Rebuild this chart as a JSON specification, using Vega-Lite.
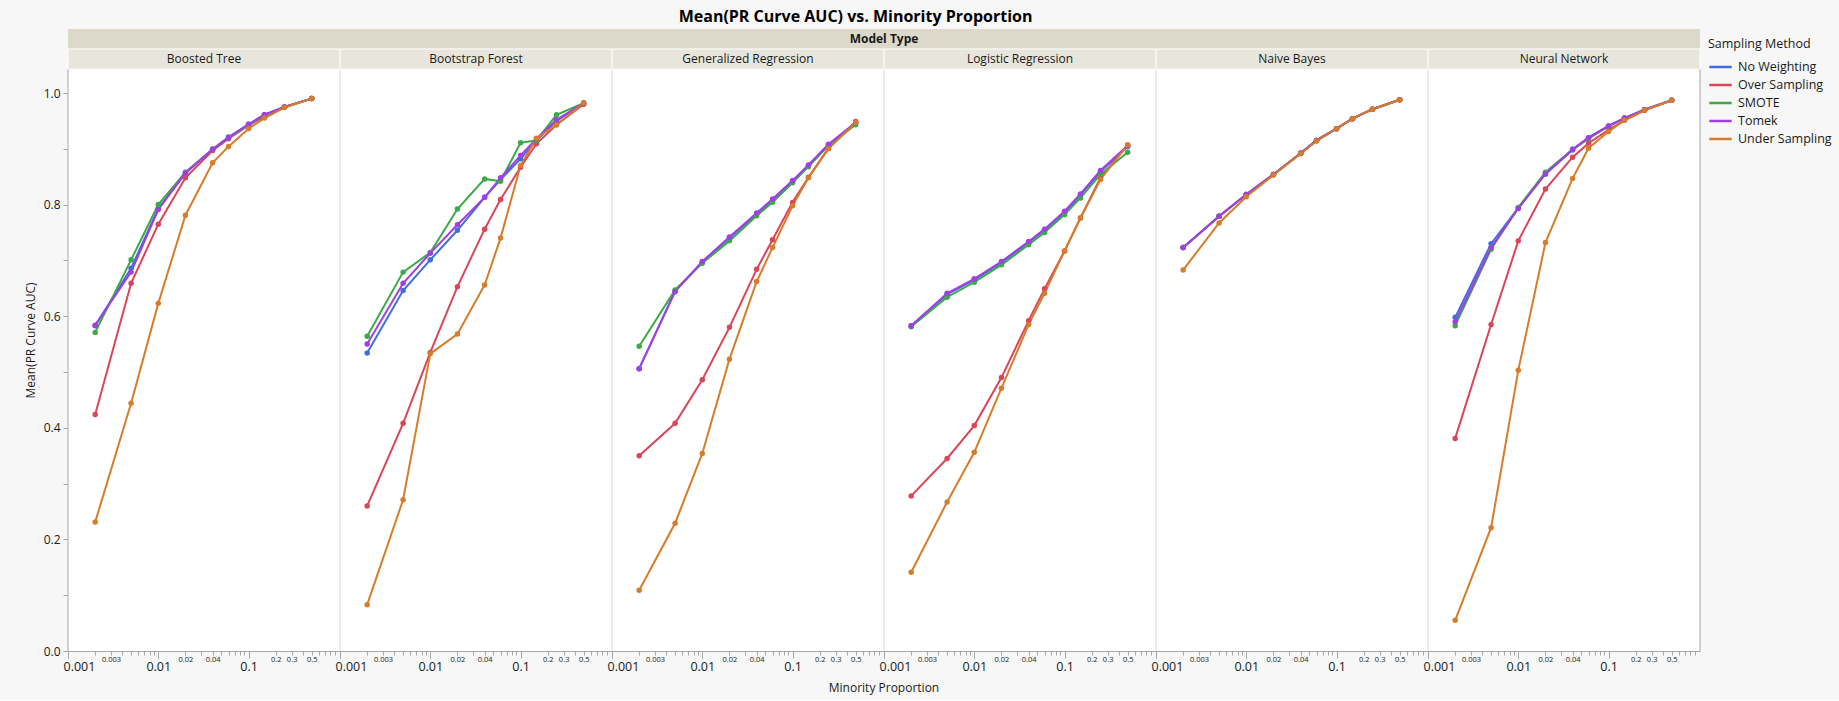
{
 "$schema": "https://vega.github.io/schema/vega-lite/v6.json",
 "background": "#f7f7f7",
 "padding": {"left": 24, "top": 9, "right": 12, "bottom": 6},
 "config": {"font": "Open Sans", "view": {"stroke": null, "fill": "white"}, "axis": {"grid": false, "domainColor": "#a6a6a6", "tickColor": "#a6a6a6", "labelColor": "#1a1a1a", "titleColor": "#1a1a1a"}},
 "title": {"text": "Mean(PR Curve AUC) vs. Minority Proportion", "fontSize": 16, "fontWeight": "bold", "color": "#000000", "offset": 4, "anchor": "middle", "dx": -77},
 "data": {"values": [
  {"m":"Boosted Tree","s":"No Weighting","x":0.002,"y":0.583},{"m":"Boosted Tree","s":"No Weighting","x":0.005,"y":0.686},{"m":"Boosted Tree","s":"No Weighting","x":0.01,"y":0.793},{"m":"Boosted Tree","s":"No Weighting","x":0.02,"y":0.856},{"m":"Boosted Tree","s":"No Weighting","x":0.04,"y":0.899},{"m":"Boosted Tree","s":"No Weighting","x":0.06,"y":0.921},{"m":"Boosted Tree","s":"No Weighting","x":0.1,"y":0.944},{"m":"Boosted Tree","s":"No Weighting","x":0.15,"y":0.961},{"m":"Boosted Tree","s":"No Weighting","x":0.25,"y":0.975},{"m":"Boosted Tree","s":"No Weighting","x":0.5,"y":0.990},
  {"m":"Boosted Tree","s":"Over Sampling","x":0.002,"y":0.424},{"m":"Boosted Tree","s":"Over Sampling","x":0.005,"y":0.659},{"m":"Boosted Tree","s":"Over Sampling","x":0.01,"y":0.765},{"m":"Boosted Tree","s":"Over Sampling","x":0.02,"y":0.848},{"m":"Boosted Tree","s":"Over Sampling","x":0.04,"y":0.897},{"m":"Boosted Tree","s":"Over Sampling","x":0.06,"y":0.918},{"m":"Boosted Tree","s":"Over Sampling","x":0.1,"y":0.942},{"m":"Boosted Tree","s":"Over Sampling","x":0.15,"y":0.958},{"m":"Boosted Tree","s":"Over Sampling","x":0.25,"y":0.975},{"m":"Boosted Tree","s":"Over Sampling","x":0.5,"y":0.990},
  {"m":"Boosted Tree","s":"SMOTE","x":0.002,"y":0.571},{"m":"Boosted Tree","s":"SMOTE","x":0.005,"y":0.701},{"m":"Boosted Tree","s":"SMOTE","x":0.01,"y":0.800},{"m":"Boosted Tree","s":"SMOTE","x":0.02,"y":0.858},{"m":"Boosted Tree","s":"SMOTE","x":0.04,"y":0.899},{"m":"Boosted Tree","s":"SMOTE","x":0.06,"y":0.920},{"m":"Boosted Tree","s":"SMOTE","x":0.1,"y":0.943},{"m":"Boosted Tree","s":"SMOTE","x":0.15,"y":0.960},{"m":"Boosted Tree","s":"SMOTE","x":0.25,"y":0.975},{"m":"Boosted Tree","s":"SMOTE","x":0.5,"y":0.990},
  {"m":"Boosted Tree","s":"Tomek","x":0.002,"y":0.584},{"m":"Boosted Tree","s":"Tomek","x":0.005,"y":0.679},{"m":"Boosted Tree","s":"Tomek","x":0.01,"y":0.791},{"m":"Boosted Tree","s":"Tomek","x":0.02,"y":0.857},{"m":"Boosted Tree","s":"Tomek","x":0.04,"y":0.899},{"m":"Boosted Tree","s":"Tomek","x":0.06,"y":0.920},{"m":"Boosted Tree","s":"Tomek","x":0.1,"y":0.944},{"m":"Boosted Tree","s":"Tomek","x":0.15,"y":0.961},{"m":"Boosted Tree","s":"Tomek","x":0.25,"y":0.975},{"m":"Boosted Tree","s":"Tomek","x":0.5,"y":0.990},
  {"m":"Boosted Tree","s":"Under Sampling","x":0.002,"y":0.231},{"m":"Boosted Tree","s":"Under Sampling","x":0.005,"y":0.444},{"m":"Boosted Tree","s":"Under Sampling","x":0.01,"y":0.623},{"m":"Boosted Tree","s":"Under Sampling","x":0.02,"y":0.781},{"m":"Boosted Tree","s":"Under Sampling","x":0.04,"y":0.875},{"m":"Boosted Tree","s":"Under Sampling","x":0.06,"y":0.904},{"m":"Boosted Tree","s":"Under Sampling","x":0.1,"y":0.936},{"m":"Boosted Tree","s":"Under Sampling","x":0.15,"y":0.955},{"m":"Boosted Tree","s":"Under Sampling","x":0.25,"y":0.974},{"m":"Boosted Tree","s":"Under Sampling","x":0.5,"y":0.990},

  {"m":"Bootstrap Forest","s":"No Weighting","x":0.002,"y":0.534},{"m":"Bootstrap Forest","s":"No Weighting","x":0.005,"y":0.646},{"m":"Bootstrap Forest","s":"No Weighting","x":0.01,"y":0.701},{"m":"Bootstrap Forest","s":"No Weighting","x":0.02,"y":0.754},{"m":"Bootstrap Forest","s":"No Weighting","x":0.04,"y":0.813},{"m":"Bootstrap Forest","s":"No Weighting","x":0.06,"y":0.845},{"m":"Bootstrap Forest","s":"No Weighting","x":0.1,"y":0.882},{"m":"Bootstrap Forest","s":"No Weighting","x":0.15,"y":0.915},{"m":"Bootstrap Forest","s":"No Weighting","x":0.25,"y":0.950},{"m":"Bootstrap Forest","s":"No Weighting","x":0.5,"y":0.982},
  {"m":"Bootstrap Forest","s":"Over Sampling","x":0.002,"y":0.260},{"m":"Bootstrap Forest","s":"Over Sampling","x":0.005,"y":0.408},{"m":"Bootstrap Forest","s":"Over Sampling","x":0.01,"y":0.535},{"m":"Bootstrap Forest","s":"Over Sampling","x":0.02,"y":0.653},{"m":"Bootstrap Forest","s":"Over Sampling","x":0.04,"y":0.756},{"m":"Bootstrap Forest","s":"Over Sampling","x":0.06,"y":0.809},{"m":"Bootstrap Forest","s":"Over Sampling","x":0.1,"y":0.867},{"m":"Bootstrap Forest","s":"Over Sampling","x":0.15,"y":0.909},{"m":"Bootstrap Forest","s":"Over Sampling","x":0.25,"y":0.943},{"m":"Bootstrap Forest","s":"Over Sampling","x":0.5,"y":0.980},
  {"m":"Bootstrap Forest","s":"SMOTE","x":0.002,"y":0.564},{"m":"Bootstrap Forest","s":"SMOTE","x":0.005,"y":0.679},{"m":"Bootstrap Forest","s":"SMOTE","x":0.01,"y":0.714},{"m":"Bootstrap Forest","s":"SMOTE","x":0.02,"y":0.792},{"m":"Bootstrap Forest","s":"SMOTE","x":0.04,"y":0.846},{"m":"Bootstrap Forest","s":"SMOTE","x":0.06,"y":0.842},{"m":"Bootstrap Forest","s":"SMOTE","x":0.1,"y":0.911},{"m":"Bootstrap Forest","s":"SMOTE","x":0.15,"y":0.915},{"m":"Bootstrap Forest","s":"SMOTE","x":0.25,"y":0.961},{"m":"Bootstrap Forest","s":"SMOTE","x":0.5,"y":0.982},
  {"m":"Bootstrap Forest","s":"Tomek","x":0.002,"y":0.550},{"m":"Bootstrap Forest","s":"Tomek","x":0.005,"y":0.659},{"m":"Bootstrap Forest","s":"Tomek","x":0.01,"y":0.713},{"m":"Bootstrap Forest","s":"Tomek","x":0.02,"y":0.764},{"m":"Bootstrap Forest","s":"Tomek","x":0.04,"y":0.813},{"m":"Bootstrap Forest","s":"Tomek","x":0.06,"y":0.848},{"m":"Bootstrap Forest","s":"Tomek","x":0.1,"y":0.888},{"m":"Bootstrap Forest","s":"Tomek","x":0.15,"y":0.918},{"m":"Bootstrap Forest","s":"Tomek","x":0.25,"y":0.952},{"m":"Bootstrap Forest","s":"Tomek","x":0.5,"y":0.982},
  {"m":"Bootstrap Forest","s":"Under Sampling","x":0.002,"y":0.083},{"m":"Bootstrap Forest","s":"Under Sampling","x":0.005,"y":0.271},{"m":"Bootstrap Forest","s":"Under Sampling","x":0.01,"y":0.533},{"m":"Bootstrap Forest","s":"Under Sampling","x":0.02,"y":0.568},{"m":"Bootstrap Forest","s":"Under Sampling","x":0.04,"y":0.656},{"m":"Bootstrap Forest","s":"Under Sampling","x":0.06,"y":0.740},{"m":"Bootstrap Forest","s":"Under Sampling","x":0.1,"y":0.870},{"m":"Bootstrap Forest","s":"Under Sampling","x":0.15,"y":0.919},{"m":"Bootstrap Forest","s":"Under Sampling","x":0.25,"y":0.943},{"m":"Bootstrap Forest","s":"Under Sampling","x":0.5,"y":0.982},

  {"m":"Generalized Regression","s":"No Weighting","x":0.002,"y":0.506},{"m":"Generalized Regression","s":"No Weighting","x":0.005,"y":0.645},{"m":"Generalized Regression","s":"No Weighting","x":0.01,"y":0.697},{"m":"Generalized Regression","s":"No Weighting","x":0.02,"y":0.740},{"m":"Generalized Regression","s":"No Weighting","x":0.04,"y":0.783},{"m":"Generalized Regression","s":"No Weighting","x":0.06,"y":0.808},{"m":"Generalized Regression","s":"No Weighting","x":0.1,"y":0.842},{"m":"Generalized Regression","s":"No Weighting","x":0.15,"y":0.870},{"m":"Generalized Regression","s":"No Weighting","x":0.25,"y":0.907},{"m":"Generalized Regression","s":"No Weighting","x":0.5,"y":0.946},
  {"m":"Generalized Regression","s":"Over Sampling","x":0.002,"y":0.350},{"m":"Generalized Regression","s":"Over Sampling","x":0.005,"y":0.408},{"m":"Generalized Regression","s":"Over Sampling","x":0.01,"y":0.486},{"m":"Generalized Regression","s":"Over Sampling","x":0.02,"y":0.580},{"m":"Generalized Regression","s":"Over Sampling","x":0.04,"y":0.684},{"m":"Generalized Regression","s":"Over Sampling","x":0.06,"y":0.737},{"m":"Generalized Regression","s":"Over Sampling","x":0.1,"y":0.804},{"m":"Generalized Regression","s":"Over Sampling","x":0.15,"y":0.849},{"m":"Generalized Regression","s":"Over Sampling","x":0.25,"y":0.901},{"m":"Generalized Regression","s":"Over Sampling","x":0.5,"y":0.949},
  {"m":"Generalized Regression","s":"SMOTE","x":0.002,"y":0.546},{"m":"Generalized Regression","s":"SMOTE","x":0.005,"y":0.647},{"m":"Generalized Regression","s":"SMOTE","x":0.01,"y":0.695},{"m":"Generalized Regression","s":"SMOTE","x":0.02,"y":0.735},{"m":"Generalized Regression","s":"SMOTE","x":0.04,"y":0.780},{"m":"Generalized Regression","s":"SMOTE","x":0.06,"y":0.804},{"m":"Generalized Regression","s":"SMOTE","x":0.1,"y":0.839},{"m":"Generalized Regression","s":"SMOTE","x":0.15,"y":0.868},{"m":"Generalized Regression","s":"SMOTE","x":0.25,"y":0.906},{"m":"Generalized Regression","s":"SMOTE","x":0.5,"y":0.943},
  {"m":"Generalized Regression","s":"Tomek","x":0.002,"y":0.506},{"m":"Generalized Regression","s":"Tomek","x":0.005,"y":0.644},{"m":"Generalized Regression","s":"Tomek","x":0.01,"y":0.698},{"m":"Generalized Regression","s":"Tomek","x":0.02,"y":0.742},{"m":"Generalized Regression","s":"Tomek","x":0.04,"y":0.785},{"m":"Generalized Regression","s":"Tomek","x":0.06,"y":0.810},{"m":"Generalized Regression","s":"Tomek","x":0.1,"y":0.843},{"m":"Generalized Regression","s":"Tomek","x":0.15,"y":0.871},{"m":"Generalized Regression","s":"Tomek","x":0.25,"y":0.908},{"m":"Generalized Regression","s":"Tomek","x":0.5,"y":0.947},
  {"m":"Generalized Regression","s":"Under Sampling","x":0.002,"y":0.109},{"m":"Generalized Regression","s":"Under Sampling","x":0.005,"y":0.229},{"m":"Generalized Regression","s":"Under Sampling","x":0.01,"y":0.354},{"m":"Generalized Regression","s":"Under Sampling","x":0.02,"y":0.523},{"m":"Generalized Regression","s":"Under Sampling","x":0.04,"y":0.662},{"m":"Generalized Regression","s":"Under Sampling","x":0.06,"y":0.723},{"m":"Generalized Regression","s":"Under Sampling","x":0.1,"y":0.798},{"m":"Generalized Regression","s":"Under Sampling","x":0.15,"y":0.848},{"m":"Generalized Regression","s":"Under Sampling","x":0.25,"y":0.900},{"m":"Generalized Regression","s":"Under Sampling","x":0.5,"y":0.947},

  {"m":"Logistic Regression","s":"No Weighting","x":0.002,"y":0.583},{"m":"Logistic Regression","s":"No Weighting","x":0.005,"y":0.639},{"m":"Logistic Regression","s":"No Weighting","x":0.01,"y":0.665},{"m":"Logistic Regression","s":"No Weighting","x":0.02,"y":0.696},{"m":"Logistic Regression","s":"No Weighting","x":0.04,"y":0.732},{"m":"Logistic Regression","s":"No Weighting","x":0.06,"y":0.754},{"m":"Logistic Regression","s":"No Weighting","x":0.1,"y":0.786},{"m":"Logistic Regression","s":"No Weighting","x":0.15,"y":0.817},{"m":"Logistic Regression","s":"No Weighting","x":0.25,"y":0.859},{"m":"Logistic Regression","s":"No Weighting","x":0.5,"y":0.904},
  {"m":"Logistic Regression","s":"Over Sampling","x":0.002,"y":0.278},{"m":"Logistic Regression","s":"Over Sampling","x":0.005,"y":0.345},{"m":"Logistic Regression","s":"Over Sampling","x":0.01,"y":0.404},{"m":"Logistic Regression","s":"Over Sampling","x":0.02,"y":0.490},{"m":"Logistic Regression","s":"Over Sampling","x":0.04,"y":0.592},{"m":"Logistic Regression","s":"Over Sampling","x":0.06,"y":0.649},{"m":"Logistic Regression","s":"Over Sampling","x":0.1,"y":0.717},{"m":"Logistic Regression","s":"Over Sampling","x":0.15,"y":0.776},{"m":"Logistic Regression","s":"Over Sampling","x":0.25,"y":0.848},{"m":"Logistic Regression","s":"Over Sampling","x":0.5,"y":0.907},
  {"m":"Logistic Regression","s":"SMOTE","x":0.002,"y":0.581},{"m":"Logistic Regression","s":"SMOTE","x":0.005,"y":0.634},{"m":"Logistic Regression","s":"SMOTE","x":0.01,"y":0.661},{"m":"Logistic Regression","s":"SMOTE","x":0.02,"y":0.692},{"m":"Logistic Regression","s":"SMOTE","x":0.04,"y":0.728},{"m":"Logistic Regression","s":"SMOTE","x":0.06,"y":0.750},{"m":"Logistic Regression","s":"SMOTE","x":0.1,"y":0.782},{"m":"Logistic Regression","s":"SMOTE","x":0.15,"y":0.812},{"m":"Logistic Regression","s":"SMOTE","x":0.25,"y":0.854},{"m":"Logistic Regression","s":"SMOTE","x":0.5,"y":0.894},
  {"m":"Logistic Regression","s":"Tomek","x":0.002,"y":0.583},{"m":"Logistic Regression","s":"Tomek","x":0.005,"y":0.641},{"m":"Logistic Regression","s":"Tomek","x":0.01,"y":0.667},{"m":"Logistic Regression","s":"Tomek","x":0.02,"y":0.698},{"m":"Logistic Regression","s":"Tomek","x":0.04,"y":0.734},{"m":"Logistic Regression","s":"Tomek","x":0.06,"y":0.756},{"m":"Logistic Regression","s":"Tomek","x":0.1,"y":0.788},{"m":"Logistic Regression","s":"Tomek","x":0.15,"y":0.819},{"m":"Logistic Regression","s":"Tomek","x":0.25,"y":0.861},{"m":"Logistic Regression","s":"Tomek","x":0.5,"y":0.906},
  {"m":"Logistic Regression","s":"Under Sampling","x":0.002,"y":0.141},{"m":"Logistic Regression","s":"Under Sampling","x":0.005,"y":0.267},{"m":"Logistic Regression","s":"Under Sampling","x":0.01,"y":0.356},{"m":"Logistic Regression","s":"Under Sampling","x":0.02,"y":0.471},{"m":"Logistic Regression","s":"Under Sampling","x":0.04,"y":0.585},{"m":"Logistic Regression","s":"Under Sampling","x":0.06,"y":0.641},{"m":"Logistic Regression","s":"Under Sampling","x":0.1,"y":0.717},{"m":"Logistic Regression","s":"Under Sampling","x":0.15,"y":0.776},{"m":"Logistic Regression","s":"Under Sampling","x":0.25,"y":0.845},{"m":"Logistic Regression","s":"Under Sampling","x":0.5,"y":0.907},

  {"m":"Naive Bayes","s":"No Weighting","x":0.002,"y":0.723},{"m":"Naive Bayes","s":"No Weighting","x":0.005,"y":0.779},{"m":"Naive Bayes","s":"No Weighting","x":0.01,"y":0.818},{"m":"Naive Bayes","s":"No Weighting","x":0.02,"y":0.854},{"m":"Naive Bayes","s":"No Weighting","x":0.04,"y":0.892},{"m":"Naive Bayes","s":"No Weighting","x":0.06,"y":0.915},{"m":"Naive Bayes","s":"No Weighting","x":0.1,"y":0.936},{"m":"Naive Bayes","s":"No Weighting","x":0.15,"y":0.954},{"m":"Naive Bayes","s":"No Weighting","x":0.25,"y":0.971},{"m":"Naive Bayes","s":"No Weighting","x":0.5,"y":0.988},
  {"m":"Naive Bayes","s":"Over Sampling","x":0.002,"y":0.723},{"m":"Naive Bayes","s":"Over Sampling","x":0.005,"y":0.779},{"m":"Naive Bayes","s":"Over Sampling","x":0.01,"y":0.818},{"m":"Naive Bayes","s":"Over Sampling","x":0.02,"y":0.854},{"m":"Naive Bayes","s":"Over Sampling","x":0.04,"y":0.892},{"m":"Naive Bayes","s":"Over Sampling","x":0.06,"y":0.915},{"m":"Naive Bayes","s":"Over Sampling","x":0.1,"y":0.936},{"m":"Naive Bayes","s":"Over Sampling","x":0.15,"y":0.954},{"m":"Naive Bayes","s":"Over Sampling","x":0.25,"y":0.971},{"m":"Naive Bayes","s":"Over Sampling","x":0.5,"y":0.988},
  {"m":"Naive Bayes","s":"SMOTE","x":0.002,"y":0.723},{"m":"Naive Bayes","s":"SMOTE","x":0.005,"y":0.779},{"m":"Naive Bayes","s":"SMOTE","x":0.01,"y":0.818},{"m":"Naive Bayes","s":"SMOTE","x":0.02,"y":0.854},{"m":"Naive Bayes","s":"SMOTE","x":0.04,"y":0.892},{"m":"Naive Bayes","s":"SMOTE","x":0.06,"y":0.915},{"m":"Naive Bayes","s":"SMOTE","x":0.1,"y":0.936},{"m":"Naive Bayes","s":"SMOTE","x":0.15,"y":0.954},{"m":"Naive Bayes","s":"SMOTE","x":0.25,"y":0.971},{"m":"Naive Bayes","s":"SMOTE","x":0.5,"y":0.988},
  {"m":"Naive Bayes","s":"Tomek","x":0.002,"y":0.723},{"m":"Naive Bayes","s":"Tomek","x":0.005,"y":0.779},{"m":"Naive Bayes","s":"Tomek","x":0.01,"y":0.818},{"m":"Naive Bayes","s":"Tomek","x":0.02,"y":0.854},{"m":"Naive Bayes","s":"Tomek","x":0.04,"y":0.892},{"m":"Naive Bayes","s":"Tomek","x":0.06,"y":0.915},{"m":"Naive Bayes","s":"Tomek","x":0.1,"y":0.936},{"m":"Naive Bayes","s":"Tomek","x":0.15,"y":0.954},{"m":"Naive Bayes","s":"Tomek","x":0.25,"y":0.971},{"m":"Naive Bayes","s":"Tomek","x":0.5,"y":0.988},
  {"m":"Naive Bayes","s":"Under Sampling","x":0.002,"y":0.683},{"m":"Naive Bayes","s":"Under Sampling","x":0.005,"y":0.767},{"m":"Naive Bayes","s":"Under Sampling","x":0.01,"y":0.814},{"m":"Naive Bayes","s":"Under Sampling","x":0.02,"y":0.853},{"m":"Naive Bayes","s":"Under Sampling","x":0.04,"y":0.891},{"m":"Naive Bayes","s":"Under Sampling","x":0.06,"y":0.914},{"m":"Naive Bayes","s":"Under Sampling","x":0.1,"y":0.936},{"m":"Naive Bayes","s":"Under Sampling","x":0.15,"y":0.954},{"m":"Naive Bayes","s":"Under Sampling","x":0.25,"y":0.971},{"m":"Naive Bayes","s":"Under Sampling","x":0.5,"y":0.988},

  {"m":"Neural Network","s":"No Weighting","x":0.002,"y":0.598},{"m":"Neural Network","s":"No Weighting","x":0.005,"y":0.730},{"m":"Neural Network","s":"No Weighting","x":0.01,"y":0.794},{"m":"Neural Network","s":"No Weighting","x":0.02,"y":0.855},{"m":"Neural Network","s":"No Weighting","x":0.04,"y":0.898},{"m":"Neural Network","s":"No Weighting","x":0.06,"y":0.920},{"m":"Neural Network","s":"No Weighting","x":0.1,"y":0.941},{"m":"Neural Network","s":"No Weighting","x":0.15,"y":0.955},{"m":"Neural Network","s":"No Weighting","x":0.25,"y":0.970},{"m":"Neural Network","s":"No Weighting","x":0.5,"y":0.987},
  {"m":"Neural Network","s":"Over Sampling","x":0.002,"y":0.381},{"m":"Neural Network","s":"Over Sampling","x":0.005,"y":0.585},{"m":"Neural Network","s":"Over Sampling","x":0.01,"y":0.735},{"m":"Neural Network","s":"Over Sampling","x":0.02,"y":0.828},{"m":"Neural Network","s":"Over Sampling","x":0.04,"y":0.885},{"m":"Neural Network","s":"Over Sampling","x":0.06,"y":0.910},{"m":"Neural Network","s":"Over Sampling","x":0.1,"y":0.934},{"m":"Neural Network","s":"Over Sampling","x":0.15,"y":0.951},{"m":"Neural Network","s":"Over Sampling","x":0.25,"y":0.969},{"m":"Neural Network","s":"Over Sampling","x":0.5,"y":0.987},
  {"m":"Neural Network","s":"SMOTE","x":0.002,"y":0.583},{"m":"Neural Network","s":"SMOTE","x":0.005,"y":0.720},{"m":"Neural Network","s":"SMOTE","x":0.01,"y":0.795},{"m":"Neural Network","s":"SMOTE","x":0.02,"y":0.858},{"m":"Neural Network","s":"SMOTE","x":0.04,"y":0.899},{"m":"Neural Network","s":"SMOTE","x":0.06,"y":0.918},{"m":"Neural Network","s":"SMOTE","x":0.1,"y":0.940},{"m":"Neural Network","s":"SMOTE","x":0.15,"y":0.955},{"m":"Neural Network","s":"SMOTE","x":0.25,"y":0.970},{"m":"Neural Network","s":"SMOTE","x":0.5,"y":0.987},
  {"m":"Neural Network","s":"Tomek","x":0.002,"y":0.590},{"m":"Neural Network","s":"Tomek","x":0.005,"y":0.723},{"m":"Neural Network","s":"Tomek","x":0.01,"y":0.793},{"m":"Neural Network","s":"Tomek","x":0.02,"y":0.855},{"m":"Neural Network","s":"Tomek","x":0.04,"y":0.899},{"m":"Neural Network","s":"Tomek","x":0.06,"y":0.920},{"m":"Neural Network","s":"Tomek","x":0.1,"y":0.941},{"m":"Neural Network","s":"Tomek","x":0.15,"y":0.955},{"m":"Neural Network","s":"Tomek","x":0.25,"y":0.970},{"m":"Neural Network","s":"Tomek","x":0.5,"y":0.987},
  {"m":"Neural Network","s":"Under Sampling","x":0.002,"y":0.055},{"m":"Neural Network","s":"Under Sampling","x":0.005,"y":0.221},{"m":"Neural Network","s":"Under Sampling","x":0.01,"y":0.503},{"m":"Neural Network","s":"Under Sampling","x":0.02,"y":0.732},{"m":"Neural Network","s":"Under Sampling","x":0.04,"y":0.847},{"m":"Neural Network","s":"Under Sampling","x":0.06,"y":0.901},{"m":"Neural Network","s":"Under Sampling","x":0.1,"y":0.931},{"m":"Neural Network","s":"Under Sampling","x":0.15,"y":0.951},{"m":"Neural Network","s":"Under Sampling","x":0.25,"y":0.969},{"m":"Neural Network","s":"Under Sampling","x":0.5,"y":0.987}
 ]},
 "facet": {"column": {"field": "m", "type": "nominal", "sort": ["Boosted Tree","Bootstrap Forest","Generalized Regression","Logistic Regression","Naive Bayes","Neural Network"], "header": {"title": "Minority Proportion", "titleOrient": "bottom", "labels": false, "titleFontSize": 12, "titleFontWeight": "normal", "titleColor": "#1a1a1a", "titlePadding": 0}}},
 "spacing": 0,
 "bounds": "flush",
 "spec": {
  "width": 272,
  "height": 622,
  "layer": [
   {"transform": [{"filter": "datum.s == 'No Weighting' && datum.x == 0.5"}],
    "mark": {"type": "rect", "fill": "#dcd9cb"},
    "encoding": {"x": {"datum": 0.001, "type": "quantitative"}, "x2": {"datum": 1.03}, "y": {"datum": 1.0789, "type": "quantitative"}, "y2": {"datum": 1.1147}}},
   {"transform": [{"filter": "datum.s == 'No Weighting' && datum.x == 0.5"}],
    "mark": {"type": "rect", "fill": "#e8e6dc", "stroke": "#ffffff", "strokeWidth": 1},
    "encoding": {"x": {"datum": 0.001, "type": "quantitative"}, "x2": {"datum": 1.03}, "y": {"datum": 1.0425, "type": "quantitative"}, "y2": {"datum": 1.0789}}},
   {"transform": [{"filter": "datum.s == 'No Weighting' && datum.x == 0.5"}],
    "mark": {"type": "rule", "strokeWidth": 1},
    "encoding": {"x": {"datum": 0.001, "type": "quantitative"}, "y": {"datum": 0, "type": "quantitative"}, "y2": {"datum": 1.0425}, "color": {"condition": {"test": "datum.m == 'Boosted Tree'", "value": "#a6a6a6"}, "value": "#d9d9d9"}}},
   {"transform": [{"filter": "datum.m == 'Neural Network' && datum.s == 'No Weighting' && datum.x == 0.5"}],
    "mark": {"type": "rule", "strokeWidth": 1, "color": "#a6a6a6"},
    "encoding": {"x": {"datum": 1.03, "type": "quantitative"}, "y": {"datum": 0, "type": "quantitative"}, "y2": {"datum": 1.0425}}},
   {"transform": [{"filter": "datum.s == 'No Weighting' && datum.x == 0.5"}],
    "mark": {"type": "text", "fontSize": 12, "color": "#1a1a1a", "align": "center", "baseline": "middle"},
    "encoding": {"x": {"datum": 0.0321, "type": "quantitative"}, "y": {"datum": 1.0607, "type": "quantitative"}, "text": {"field": "m"}}},
   {"transform": [{"filter": "datum.m == 'Logistic Regression' && datum.s == 'No Weighting' && datum.x == 0.5"}],
    "mark": {"type": "text", "fontSize": 12, "fontWeight": "bold", "color": "#1a1a1a", "align": "center", "baseline": "middle"},
    "encoding": {"x": {"datum": 0.001, "type": "quantitative"}, "y": {"datum": 1.0968, "type": "quantitative"}, "text": {"value": "Model Type"}}},
   {"mark": {"type": "line", "strokeWidth": 2},
    "encoding": {
     "x": {"field": "x", "type": "quantitative", "scale": {"type": "log", "domain": [0.001, 1.03], "nice": false},
      "axis": {"title": null, "values": [0.001,0.002,0.003,0.004,0.005,0.006,0.007,0.008,0.009,0.01,0.02,0.03,0.04,0.05,0.06,0.07,0.08,0.09,0.1,0.2,0.3,0.4,0.5,0.6,0.7,0.8,0.9],
       "labelExpr": "indexof([0.001,0.003,0.01,0.02,0.04,0.1,0.2,0.3,0.5], datum.value) >= 0 ? toString(datum.value) : ''",
       "labelFontSize": {"condition": {"test": "datum.value == 0.001 || datum.value == 0.01 || datum.value == 0.1", "value": 12.5}, "value": 7.5},
       "labelPadding": {"condition": {"test": "datum.value == 0.001 || datum.value == 0.01 || datum.value == 0.1", "value": 2}, "value": 0},
       "tickSize": {"condition": {"test": "datum.value == 0.001 || datum.value == 0.01 || datum.value == 0.1", "value": 7}, "value": 4},
       "labelFlush": true, "labelFlushOffset": 5, "labelOverlap": false, "domainColor": "#a6a6a6"}},
     "y": {"field": "y", "type": "quantitative", "scale": {"domain": [0, 1.1147], "nice": false, "zero": false},
      "axis": {"title": "Mean(PR Curve AUC)", "values": [0,0.1,0.2,0.3,0.4,0.5,0.6,0.7,0.8,0.9,1.0],
       "labelExpr": "round(datum.value*10) % 2 == 0 ? format(datum.value, '.1f') : ''",
       "tickSize": 5, "domain": false, "labelFontSize": 12, "titleFontSize": 12, "titleFontWeight": "normal", "labelPadding": 3, "titlePadding": 6}},
     "color": {"field": "s", "type": "nominal",
      "scale": {"domain": ["No Weighting","Over Sampling","SMOTE","Tomek","Under Sampling"], "range": ["#3f6fdb","#db4558","#3aaa46","#a23de7","#d77c2a"]},
      "legend": {"title": "Sampling Method", "orient": "right", "offset": -2, "padding": 9, "symbolType": "M-1.6,0H1.6", "symbolSize": 196, "symbolStrokeWidth": 2.5, "labelFontSize": 12.5, "titleFontSize": 12.5, "titleFontWeight": "normal", "titleColor": "#1a1a1a", "labelColor": "#1a1a1a", "rowPadding": 3, "labelOffset": 9, "symbolOffset": 4, "titlePadding": 8}}
    }},
   {"mark": {"type": "point", "filled": true, "size": 30, "opacity": 1},
    "encoding": {"x": {"field": "x", "type": "quantitative"}, "y": {"field": "y", "type": "quantitative"}, "color": {"field": "s", "type": "nominal", "legend": null}}}
  ]
 }
}
